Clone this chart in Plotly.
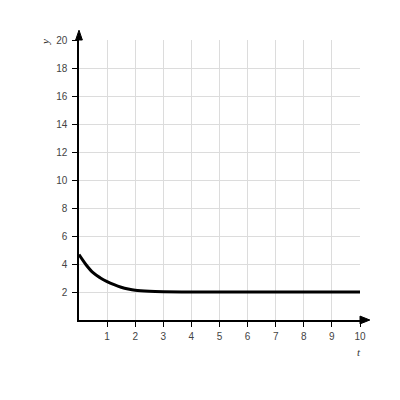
import plotly.graph_objects as go

# values
t_vals = [0, 0.25, 0.5, 0.75, 1.0, 1.25, 1.5, 1.75, 2.0, 2.5, 3.0, 4, 5, 6, 7, 8, 9, 10]
y_vals = [4.67, 3.95, 3.38, 3.02, 2.74, 2.52, 2.34, 2.21, 2.12, 2.05, 2.02, 2.0, 2.0, 2.0, 2.0, 2.0, 2.0, 2.0]

x_ticks = [1, 2, 3, 4, 5, 6, 7, 8, 9, 10]
y_ticks = [2, 4, 6, 8, 10, 12, 14, 16, 18, 20]

fig = go.Figure()
fig.add_trace(go.Scatter(x=t_vals, y=y_vals, mode='lines', line=dict(color='black', width=3, shape='spline'),
                         cliponaxis=False, hoverinfo='skip'))

axis_font = dict(family='Liberation Sans, Arial', size=10, color='#444')
fig.update_xaxes(range=[0, 10], tickvals=x_ticks, showgrid=True, gridcolor='#dcdcdc', gridwidth=1,
                 showline=True, linecolor='black', linewidth=1.5, ticks='outside', ticklen=5,
                 tickcolor='black', tickfont=axis_font, ticklabelstandoff=1, zeroline=False, fixedrange=True)
fig.update_yaxes(range=[0, 20], tickvals=y_ticks, showgrid=True, gridcolor='#dcdcdc', gridwidth=1,
                 showline=True, linecolor='black', linewidth=1.5, ticks='outside', ticklen=5,
                 tickcolor='black', tickfont=axis_font, ticklabelstandoff=3, zeroline=False, fixedrange=True)

# axis arrowheads (paper coordinates)
fig.add_shape(type='path', xref='paper', yref='paper', path='M -0.012 1.0 L 0.012 1.0 L 0 1.035 Z',
              fillcolor='black', line=dict(color='black', width=1))
fig.add_shape(type='path', xref='paper', yref='paper', path='M 1.0 -0.014 L 1.0 0.014 L 1.035 0 Z',
              fillcolor='black', line=dict(color='black', width=1))

fig.add_annotation(text='<i>t</i>', x=0.995, y=-0.115, xref='paper', yref='paper', showarrow=False,
                   xanchor='center', yanchor='middle',
                   font=dict(family='Liberation Serif, Times New Roman', size=11, color='#333'))
fig.add_annotation(text='<i>y</i>', x=-0.121, y=0.993, xref='paper', yref='paper', showarrow=False,
                   xanchor='center', yanchor='middle', textangle=-90,
                   font=dict(family='Liberation Serif, Times New Roman', size=11, color='#333'))

fig.update_layout(width=400, height=400, margin=dict(l=71, r=48, t=32, b=88),
                  plot_bgcolor='white', paper_bgcolor='white', showlegend=False)

fig.write_html("out.html")
